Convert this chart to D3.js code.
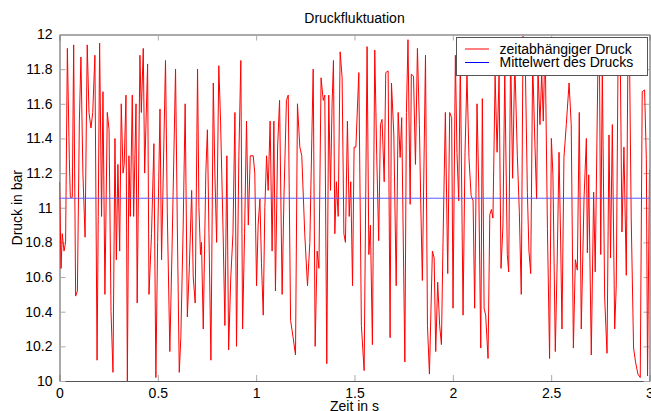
<!DOCTYPE html>
<html>
<head>
<meta charset="utf-8">
<script src="https://cdn.jsdelivr.net/npm/d3@7"></script>
<style>
  body { margin: 0; background: #fff; }
  text { font-family: Arial, "Liberation Sans", sans-serif; }
</style>
</head>
<body>
<div id="chart"></div>
<script>
// Zeit in s (Extremwerte)
const time = [
  0.000,0.008,0.014,0.023,0.031,0.040,0.050,0.055,0.065,0.072,0.082,0.091,0.101,0.109,0.119,0.130,0.141,0.150,0.160,0.169,0.180,0.191,0.197,0.204,0.214,0.221,0.231,0.243,0.252,0.262,0.272,0.282,0.289,0.297,0.306,0.314,0.323,0.329,0.338,0.345,0.353,0.360,0.370,
  0.377,0.389,0.395,0.409,0.416,0.426,0.433,0.448,0.455,0.468,0.480,0.490,0.499,0.511,0.519,0.539,0.548,0.561,0.572,0.590,0.599,0.609,0.617,0.629,0.639,0.650,0.660,0.672,0.680,0.690,0.702,0.709,0.717,0.722,0.731,0.744,
  0.752,0.760,0.770,0.782,0.790,0.799,0.810,0.819,0.832,0.841,0.851,0.860,0.871,0.882,0.892,0.900,0.912,0.922,0.931,0.941,0.951,0.960,0.970,0.985,0.993,1.002,1.010,1.019,1.027,1.036,1.044,1.053,1.061,1.071,1.081,1.090,1.098,1.109,1.119,
  1.132,1.141,1.154,1.163,1.175,1.188,1.200,1.210,1.222,1.232,1.247,1.261,1.273,1.283,1.290,1.300,1.310,1.319,1.330,1.341,1.349,1.359,1.369,1.378,1.386,1.393,1.400,1.408,1.417,1.427,1.437,1.446,1.454,1.464,1.473,1.481,1.490,1.498,1.507,
  1.522,1.535,1.549,1.564,1.573,1.581,1.591,1.603,1.613,1.623,1.632,1.640,1.651,1.659,1.671,1.681,1.688,1.700,1.712,1.722,1.732,1.740,1.756,1.764,1.772,1.783,1.789,1.800,1.810,1.820,1.830,1.837,1.845,1.861,1.871,1.881,
  1.896,1.905,1.913,1.923,1.933,1.942,1.950,1.962,1.974,1.984,1.994,2.001,2.013,2.021,2.030,2.038,2.052,2.062,2.072,2.082,2.093,2.103,2.111,2.123,2.132,2.142,2.150,2.159,2.167,2.179,2.188,2.196,2.204,2.215,2.225,2.235,2.245,2.255,2.264,
  2.277,2.284,2.294,2.304,2.315,2.328,2.338,2.348,2.357,2.369,2.379,2.387,2.396,2.406,2.416,2.426,2.433,2.443,2.452,2.460,2.469,2.481,2.492,2.501,2.509,2.521,2.531,2.540,2.548,2.555,2.565,2.577,2.591,2.602,2.613,2.623,2.633,
  2.643,2.653,2.667,2.679,2.684,2.691,2.704,2.716,2.724,2.738,2.745,2.752,2.760,2.772,2.784,2.794,2.802,2.811,2.823,2.831,2.840,2.852,2.860,2.870,2.882,2.890,2.899,2.907,2.919,2.929,2.941,2.953,2.963,2.975,2.984,2.990,3.000
];

// Druck in bar
const pressure = [
  11.15,10.65,10.85,10.75,10.80,11.92,11.28,11.06,11.06,11.94,10.49,10.52,11.50,11.87,11.20,10.83,11.94,11.55,11.46,11.55,11.88,10.12,10.95,11.95,10.95,11.67,10.50,11.55,11.45,10.40,10.05,11.40,10.70,11.25,10.75,11.60,11.20,11.25,11.65,10.00,11.30,10.95,11.65,
  10.95,11.60,10.45,11.88,11.55,11.92,11.20,11.83,10.50,10.85,11.37,10.02,10.80,11.57,10.70,11.85,10.98,10.17,10.75,11.80,10.90,10.05,10.25,10.90,11.60,10.37,10.65,11.10,10.60,10.45,11.80,11.00,10.73,10.80,10.30,11.20,
  11.45,10.85,10.12,11.72,11.20,10.80,11.82,11.50,10.85,10.32,11.30,10.18,10.60,10.85,11.55,10.20,11.30,11.85,10.30,10.85,11.50,10.90,11.30,11.30,11.20,10.55,10.90,11.05,10.68,10.38,11.00,11.30,11.10,11.50,10.75,11.50,10.52,11.35,11.62,
  10.50,11.05,11.62,11.65,10.35,10.25,10.15,11.60,11.35,11.30,10.85,10.55,10.80,11.40,11.80,10.20,10.75,10.65,11.75,11.62,11.65,10.10,11.65,11.10,11.60,11.85,10.85,11.15,10.95,11.90,11.75,10.85,10.80,11.50,10.95,11.15,10.55,11.35,11.35,
  11.78,10.32,10.06,11.93,10.73,10.90,10.21,11.91,11.30,10.81,11.48,11.51,11.15,11.78,11.79,10.25,11.72,11.42,10.55,11.55,11.29,11.52,10.11,11.55,11.97,11.02,11.77,11.76,11.25,11.92,11.48,11.02,10.58,11.88,10.32,10.04,
  10.75,10.71,10.17,10.57,10.32,10.21,10.80,11.55,10.62,11.55,11.52,10.42,11.88,11.32,11.04,11.86,10.38,11.32,11.77,11.29,11.07,11.04,10.42,11.60,11.11,10.19,11.63,10.42,10.38,10.13,10.96,10.99,10.94,11.76,11.32,11.77,10.65,10.90,11.79,
  10.73,10.63,11.93,11.17,11.85,11.30,10.98,10.50,11.99,11.80,11.09,10.75,10.62,11.85,11.42,11.05,11.80,11.48,11.78,11.50,11.98,10.88,10.13,11.40,11.19,10.17,10.71,11.32,10.82,10.30,11.29,11.48,11.72,11.48,10.19,10.70,10.64,
  11.55,10.30,11.05,11.40,10.74,11.19,10.15,11.09,10.63,11.85,11.95,10.73,11.80,10.48,10.16,11.42,10.71,11.48,10.30,10.55,11.85,11.79,10.86,11.35,10.61,11.85,11.81,10.94,10.19,10.11,10.04,10.02,11.67,11.68,11.28,10.03,11.22
];

const meanPressure = 11.055;

const xTicks = [0, 0.5, 1, 1.5, 2, 2.5, 3];
const yTicks = [10, 10.2, 10.4, 10.6, 10.8, 11, 11.2, 11.4, 11.6, 11.8, 12];
const legendLabels = ['zeitabhängiger Druck', 'Mittelwert des Drucks'];
const legendColors = ['#ff0000', '#0000ff'];

const W = 651, H = 411;
const margin = { top: 34.5, right: 1.5, bottom: 30, left: 59.5 };
const w = W - margin.left - margin.right;
const h = H - margin.top - margin.bottom;

const svg = d3.select('#chart').append('svg')
  .attr('width', W)
  .attr('height', H);

const x = d3.scaleLinear().domain([0, 3]).range([0, w]);
const y = d3.scaleLinear().domain([10, 12]).range([h, 0]);

const g = svg.append('g')
  .attr('transform', `translate(${margin.left},${margin.top})`);

g.append('clipPath').attr('id', 'clip')
  .append('rect').attr('width', w).attr('height', h + 1).attr('y', -1);

const fmt = d => String(+d.toFixed(1));

// Achsen mit Strichen nach innen (unten/links beschriftet, oben/rechts ohne Text)
const axBottom = g.append('g').attr('transform', `translate(0,${h})`)
  .call(d3.axisBottom(x).tickValues(xTicks).tickFormat(fmt).tickSizeInner(-6).tickSizeOuter(0).tickPadding(5));
const axTop = g.append('g')
  .call(d3.axisTop(x).tickValues(xTicks).tickFormat('').tickSizeInner(-6).tickSizeOuter(0));
const axLeft = g.append('g')
  .call(d3.axisLeft(y).tickValues(yTicks).tickFormat(fmt).tickSizeInner(-6).tickSizeOuter(0).tickPadding(7));
const axRight = g.append('g').attr('transform', `translate(${w},0)`)
  .call(d3.axisRight(y).tickValues(yTicks).tickFormat('').tickSizeInner(-6).tickSizeOuter(0));

[axBottom, axTop, axLeft, axRight].forEach(a => {
  a.select('.domain').attr('stroke', '#555');
  a.selectAll('.tick line').attr('stroke', '#aaa');
  a.selectAll('.tick text').attr('fill', '#000').style('font-size', '14px')
    .style('font-family', 'Arial, "Liberation Sans", sans-serif');
});
axBottom.selectAll('.tick text').attr('dy', '0.85em');

const line = d3.line()
  .x(d => x(d[0]))
  .y(d => y(d[1]));

const series = d3.zip(time, pressure);

g.append('path')
  .datum(series)
  .attr('clip-path', 'url(#clip)')
  .attr('fill', 'none')
  .attr('stroke', legendColors[0])
  .attr('stroke-width', 1)
  .attr('d', line);

g.append('line')
  .attr('x1', x(0)).attr('x2', x(3))
  .attr('y1', y(meanPressure)).attr('y2', y(meanPressure))
  .attr('stroke', '#5a5aff')
  .attr('stroke-width', 1);

// Titel und Beschriftungen
svg.append('text')
  .attr('x', margin.left + w / 2).attr('y', 23)
  .attr('text-anchor', 'middle')
  .style('font-size', '14px')
  .text('Druckfluktuation');

svg.append('text')
  .attr('x', margin.left + w / 2).attr('y', 411)
  .attr('text-anchor', 'middle')
  .style('font-size', '14px')
  .text('Zeit in s');

svg.append('text')
  .attr('transform', `translate(22,${margin.top + h / 2}) rotate(-90)`)
  .attr('text-anchor', 'middle')
  .style('font-size', '14px')
  .text('Druck in bar');

// Legende
const legend = svg.append('g').attr('transform', 'translate(456.5,37.5)');
legend.append('rect')
  .attr('width', 191).attr('height', 38)
  .attr('fill', '#fff')
  .attr('stroke', '#555');

legend.selectAll('g.item')
  .data(legendLabels)
  .enter()
  .append('g')
  .attr('class', 'item')
  .attr('transform', (d, i) => `translate(0,${11.5 + i * 13.5})`)
  .each(function(d, i) {
    const item = d3.select(this);
    item.append('line')
      .attr('x1', 8.5).attr('x2', 32.5)
      .attr('stroke', legendColors[i]);
    item.append('text')
      .attr('x', 43).attr('dy', '0.35em')
      .style('font-size', '14px')
      .text(d);
  });
</script>
</body>
</html>
